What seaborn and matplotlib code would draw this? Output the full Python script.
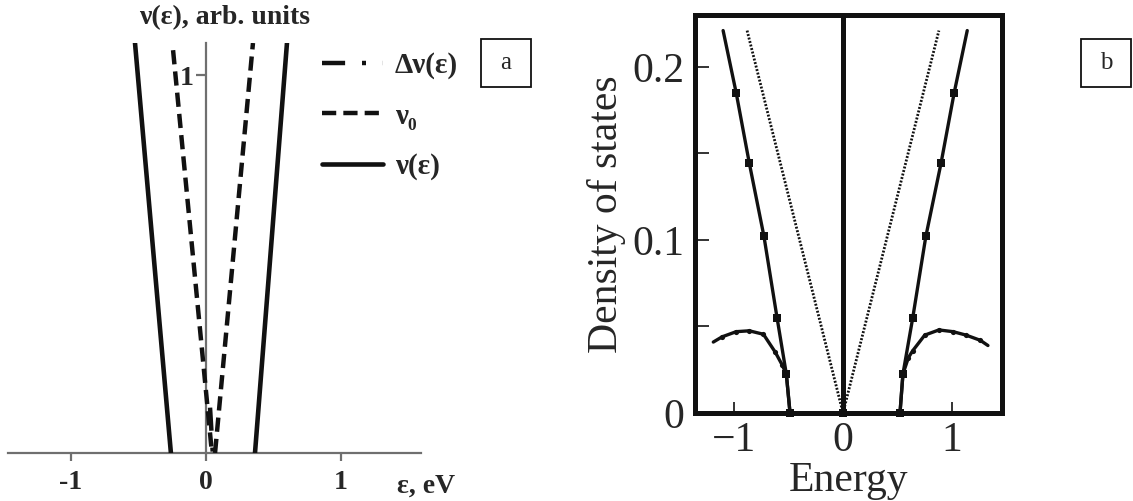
import matplotlib
matplotlib.use("Agg")
import matplotlib.pyplot as plt
import matplotlib.patches as mpatches
import pandas as pd
import seaborn as sns

#------Data: panel a (arb. units vs eps, eV)------

NU_EPS = [-0.526, -0.26, 0.363, 0.60]
NU_VAL = [1.085, 0.0, 0.0, 1.085]
NU_BRANCH = ["left", "left", "right", "right"]

NU0_EPS = [-0.244, 0.044, 0.067, 0.348]
NU0_VAL = [1.066, 0.0, 0.0, 1.085]
NU0_BRANCH = ["left", "left", "right", "right"]

DNU_EPS = [0.03, 0.05]
DNU_VAL = [0.12, 0.0]

A_XTICKS = [-1, 0, 1]
A_XTICKLABELS = ["-1", "0", "1"]
A_YTICKS = [1]
A_YTICKLABELS = ["1"]

#------Data: panel b (density of states vs energy)------

SQ_E = [-1.10, -0.98, -0.86, -0.725, -0.605, -0.52, -0.486,
        0.523, 0.55, 0.64, 0.76, 0.90, 1.02, 1.14]
SQ_D = [0.221, 0.185, 0.1445, 0.102, 0.055, 0.0225, 0.0,
        0.0, 0.0225, 0.055, 0.102, 0.1445, 0.185, 0.221]
SQ_BRANCH = ["left"] * 7 + ["right"] * 7
SQ_MARKED = [False] + [True] * 12 + [False]

DOME_E = [-1.19, -1.11, -0.98, -0.86, -0.73, -0.62, -0.56, -0.52, -0.486,
          0.523, 0.55, 0.60, 0.64, 0.75, 0.88, 1.01, 1.13, 1.26, 1.33]
DOME_D = [0.041, 0.044, 0.047, 0.0475, 0.0455, 0.035, 0.028, 0.0225, 0.0,
          0.0, 0.0225, 0.032, 0.036, 0.045, 0.048, 0.047, 0.045, 0.042, 0.039]
DOME_BRANCH = ["left"] * 9 + ["right"] * 10
DOME_MARKED = [False] + [True] * 7 + [False] + [False] + [True] * 8 + [False]

DIRAC_E = [-0.88, 0.0, 0.88]
DIRAC_D = [0.221, 0.0, 0.221]

PEAK_E = [0.0, 0.0]
PEAK_D = [0.0, 0.23]

B_XTICKS = [-1, 0, 1]
B_XTICKLABELS = ["\u22121", "0", "1"]
B_YTICKS = [0, 0.1, 0.2]
B_YTICKLABELS = ["0", "0.1", "0.2"]
B_YMINOR = [0.05, 0.15]

#------Style------

sns.set_style("ticks")
plt.rcParams["font.family"] = ["Liberation Serif", "DejaVu Serif"]

W, H = 1133, 501
GRAY = "#6f6f6f"
INK = "#111111"
A_FS = 20

fig = plt.figure(figsize=(W / 100, H / 100), dpi=100)

#------Panel a------

ax_a = fig.add_axes([8 / W, 1 - 453 / H, 413 / W, 410 / H])

nu_df = pd.DataFrame({"eps": NU_EPS, "val": NU_VAL, "branch": NU_BRANCH})
nu0_df = pd.DataFrame({"eps": NU0_EPS, "val": NU0_VAL, "branch": NU0_BRANCH})
dnu_df = pd.DataFrame({"eps": DNU_EPS, "val": DNU_VAL})

n = len(ax_a.lines)
sns.lineplot(data=dnu_df, x="eps", y="val", estimator=None, sort=False, color=INK, lw=3.2,
             linestyle=(0, (5.2, 3.8, 0.9, 3.8)), zorder=3, ax=ax_a)
h_dnu = ax_a.lines[n]
n = len(ax_a.lines)
sns.lineplot(data=nu0_df, x="eps", y="val", units="branch", estimator=None, sort=False,
             color=INK, lw=3.2, linestyle=(0, (3.2, 1.6)), zorder=3, ax=ax_a)
h_nu0 = ax_a.lines[n]
n = len(ax_a.lines)
sns.lineplot(data=nu_df, x="eps", y="val", units="branch", estimator=None, sort=False,
             color=INK, lw=3.3, zorder=3, ax=ax_a)
h_nu = ax_a.lines[n]

ax_a.set_xlim(-1.467, 1.593)
ax_a.set_ylim(0, 1.085)
ax_a.set_xlabel("")
ax_a.set_ylabel("")
ax_a.spines["top"].set_visible(False)
ax_a.spines["right"].set_visible(False)
ax_a.spines["left"].set_position(("data", 0))
for s in ("left", "bottom"):
    ax_a.spines[s].set_color(GRAY)
    ax_a.spines[s].set_linewidth(1.6)
ax_a.set_xticks(A_XTICKS, A_XTICKLABELS, fontweight="bold", fontsize=A_FS)
ax_a.set_yticks(A_YTICKS, A_YTICKLABELS, fontweight="bold", fontsize=A_FS)
ax_a.tick_params(axis="x", direction="out", length=6, width=1.6, color=GRAY, pad=6)
ax_a.tick_params(axis="y", direction="out", length=7, width=1.6, color=GRAY, pad=2)

h_dnu.set_label("\u0394\u03bd(\u03b5)")
h_nu0.set_label("\u03bd\u2080")
h_nu.set_label("\u03bd(\u03b5)")
fig.legend(handles=[h_dnu, h_nu0, h_nu], loc="upper left",
           bbox_to_anchor=(322 / W, 1 - 52 / H), frameon=False,
           prop={"weight": "bold", "size": 21}, handlelength=2.1,
           handletextpad=0.4, labelspacing=0.8, borderpad=0, borderaxespad=0)

fig.text(225 / W, 1 - 18 / H, "\u03bd(\u03b5), arb. units", ha="center", va="center",
         fontweight="bold", fontsize=A_FS)
fig.text(397 / W, 1 - 486 / H, "\u03b5, eV", ha="left", va="center",
         fontweight="bold", fontsize=A_FS)

#------Panel b------

ax_b = fig.add_axes([695 / W, 1 - 413 / H, 307 / W, 398 / H])

sq_df = pd.DataFrame({"E": SQ_E, "D": SQ_D, "branch": SQ_BRANCH, "marked": SQ_MARKED})
dome_df = pd.DataFrame({"E": DOME_E, "D": DOME_D, "branch": DOME_BRANCH, "marked": DOME_MARKED})
dirac_df = pd.DataFrame({"E": DIRAC_E, "D": DIRAC_D})
peak_df = pd.DataFrame({"E": PEAK_E, "D": PEAK_D, "branch": ["peak", "peak"]})

sns.lineplot(data=dirac_df, x="E", y="D", estimator=None, sort=False, color=INK, lw=2.0,
             linestyle=(0, (0.7, 0.6)), ax=ax_b)
sns.lineplot(data=dome_df, x="E", y="D", units="branch", estimator=None, sort=False,
             color=INK, lw=2.4, ax=ax_b)
sns.scatterplot(data=dome_df[dome_df["marked"]], x="E", y="D", marker="o", s=14,
                color=INK, edgecolor=INK, linewidth=0, zorder=4, ax=ax_b)
sns.lineplot(data=sq_df, x="E", y="D", units="branch", estimator=None, sort=False,
             color=INK, lw=2.4, ax=ax_b)
sns.scatterplot(data=sq_df[sq_df["marked"]], x="E", y="D", marker="s", s=30,
                color=INK, edgecolor=INK, linewidth=0, zorder=4, clip_on=False, ax=ax_b)
sns.lineplot(data=peak_df, x="E", y="D", units="branch", estimator=None, sort=False,
             color=INK, lw=3.6, ax=ax_b)
sns.scatterplot(data=peak_df.iloc[:1], x="E", y="D", marker="s", s=40, color=INK,
                edgecolor=INK, linewidth=0, zorder=4, clip_on=False, ax=ax_b)

ax_b.set_xlim(-1.358, 1.459)
ax_b.set_ylim(0, 0.230)
for s in ax_b.spines.values():
    s.set_linewidth(3.6)
    s.set_color(INK)
ax_b.set_xticks(B_XTICKS, B_XTICKLABELS, fontsize=30)
ax_b.set_yticks(B_YTICKS, B_YTICKLABELS, fontsize=30)
ax_b.set_yticks(B_YMINOR, minor=True)
ax_b.tick_params(axis="x", direction="in", length=8, width=1.2, color=INK, pad=6)
ax_b.tick_params(axis="y", which="both", direction="in", length=10, width=1.2,
                 color=INK, pad=8)
ax_b.set_xlabel("Energy", fontsize=30, labelpad=1)
ax_b.set_ylabel("Density of states", fontsize=30, labelpad=4)

#------Panel tags------

for x0, tag in ((481, "a"), (1081, "b")):
    fig.add_artist(mpatches.Rectangle((x0 / W, 1 - 87 / H), 50 / W, 48 / H,
                                      transform=fig.transFigure, fill=False,
                                      lw=1.3, ec=INK))
    fig.text((x0 + 25) / W, 1 - 63 / H, tag, ha="center", va="center", fontsize=18)

fig.savefig("out.png", dpi=100)
plt.close(fig)
